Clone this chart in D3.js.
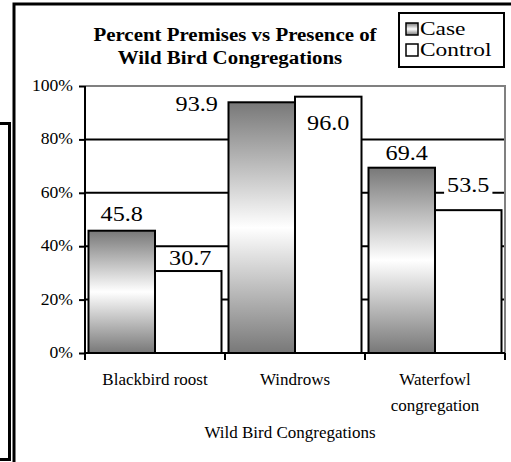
<!DOCTYPE html>
<meta charset="utf-8">
<style>
body { margin: 0; background: #fff; }
svg text { font-family: "Liberation Serif", "Times New Roman", Times, serif; }
.grid line { stroke: #000; stroke-width: 2; }
.axis path, .axis line { stroke: #000; stroke-width: 2; }
</style>
<body>
<script src="https://d3js.org/d3.v7.min.js"></script>
<script>

// data
var categories = ["Blackbird roost", "Windrows", "Waterfowl congregation"];
var seriesNames = ["Case", "Control"];
var caseValues = [45.8, 93.9, 69.4];
var controlValues = [30.7, 96.0, 53.5];
var yTicks = [0, 20, 40, 60, 80, 100];

// hand placed label nudges (px) like the original, [case, control] per category
var labelNudge = [[[0, -10], [2, -6]], [[-65, 9], [0, 33]], [[5, -8], [0, -18]]];

var width = 511, height = 462;
var margin = {left: 85, right: 6, top: 86, bottom: 109};
var serif = "'Liberation Serif', 'Times New Roman', serif";

var svg = d3.select("body").append("svg")
    .attr("width", width)
    .attr("height", height)
    .attr("font-family", serif);

// gradient for the Case bars: grey - white - grey
var grad = svg.append("defs").append("linearGradient")
    .attr("id", "caseFill")
    .attr("x1", 0).attr("y1", 0).attr("x2", 0).attr("y2", 1);
grad.append("stop").attr("offset", "0%").attr("stop-color", "#787878");
grad.append("stop").attr("offset", "50%").attr("stop-color", "#ffffff");
grad.append("stop").attr("offset", "100%").attr("stop-color", "#787878");

// frames around the picture
svg.append("path")
    .attr("d", "M14,520 V4 H520")
    .attr("fill", "none").attr("stroke", "#000").attr("stroke-width", 3);
svg.append("path")
    .attr("d", "M0,123.5 H9.5 V459.5 H0")
    .attr("fill", "none").attr("stroke", "#000").attr("stroke-width", 3);

var x0 = d3.scaleBand()
    .domain(categories)
    .range([margin.left, width - margin.right])
    .paddingInner(0.05)
    .paddingOuter(0.025);

var x1 = d3.scaleBand()
    .domain(seriesNames)
    .range([0, x0.bandwidth()]);

var y = d3.scaleLinear()
    .domain([0, 100])
    .range([height - margin.bottom, margin.top]);

// helper for the slightly wide text of the original
function wideText(g, px, py, sx, txt) {
  return g.append("text")
      .attr("font-family", serif)
      .attr("transform", "translate(" + px + "," + py + ") scale(" + sx + ",1)")
      .text(txt);
}

// gridlines
svg.append("g").attr("class", "grid")
  .selectAll("line")
  .data(yTicks.filter(function(d) { return d > 0 && d < 100; }))
  .enter().append("line")
    .attr("x1", margin.left).attr("x2", width - margin.right)
    .attr("y1", function(d) { return y(d); })
    .attr("y2", function(d) { return y(d); });

// grey plot border top + right
svg.append("path")
    .attr("d", "M" + margin.left + "," + y(100) + " H" + (width - margin.right) + " V" + y(0))
    .attr("fill", "none").attr("stroke", "#808080").attr("stroke-width", 2);

// bars
var rows = categories.map(function(c, i) {
  return {cat: c, i: i, vals: [caseValues[i], controlValues[i]]};
});

var groups = svg.append("g").selectAll("g")
  .data(rows)
  .enter().append("g")
    .attr("transform", function(d) { return "translate(" + x0(d.cat) + ",0)"; });

groups.selectAll("rect")
  .data(function(d) { return d.vals.map(function(v, k) { return {s: seriesNames[k], v: v}; }); })
  .enter().append("rect")
    .attr("x", function(d) { return x1(d.s); })
    .attr("width", x1.bandwidth())
    .attr("y", function(d) { return y(d.v); })
    .attr("height", function(d) { return y(0) - y(d.v); })
    .attr("fill", function(d) { return d.s == "Case" ? "url(#caseFill)" : "#fff"; })
    .attr("stroke", "#000")
    .attr("stroke-width", 2);

// value labels with white backing
rows.forEach(function(r) {
  r.vals.forEach(function(v, k) {
    var cx = x0(r.cat) + x1(seriesNames[k]) + x1.bandwidth() / 2 + labelNudge[r.i][k][0];
    var by = y(v) + labelNudge[r.i][k][1];
    var lg = svg.append("g");
    var bg = lg.append("rect").attr("fill", "#fff");
    var t = wideText(lg, cx, by, 1.1, v.toFixed(1))
        .attr("text-anchor", "middle")
        .attr("font-size", 22);
    var w = t.node().getComputedTextLength() * 1.1;
    bg.attr("x", cx - w / 2 - 3).attr("y", by - 17).attr("width", w + 6).attr("height", 21);
  });
});

// y axis
var yAxis = svg.append("g").attr("class", "axis")
    .attr("transform", "translate(" + margin.left + ",0)")
    .call(d3.axisLeft(y).tickValues(yTicks).tickSize(6).tickFormat(""));
yAxis.select(".domain").attr("d", "M0," + y(100) + "V" + y(0));
yTicks.forEach(function(d) {
  wideText(svg, margin.left - 12, y(d) + 5, 1.1, d + "%")
      .attr("text-anchor", "end")
      .attr("font-size", 16);
});

// x axis, ticks on the category boundaries
var bounds = categories.map(function(c) { return x0(c) - x0.step() * x0.paddingInner() / 2; });
bounds.push(width - margin.right);
var xg = svg.append("g").attr("class", "axis");
xg.append("line")
    .attr("x1", margin.left).attr("x2", width - margin.right)
    .attr("y1", y(0)).attr("y2", y(0));
xg.selectAll(".tk")
  .data(bounds)
  .enter().append("line")
    .attr("class", "tk")
    .attr("x1", function(d) { return d; }).attr("x2", function(d) { return d; })
    .attr("y1", y(0)).attr("y2", y(0) + 7);

// category labels, wrapped when too wide
categories.forEach(function(c) {
  var cx = x0(c) + x0.bandwidth() / 2;
  var t = svg.append("text")
      .attr("font-family", serif)
      .attr("x", cx).attr("y", 385)
      .attr("text-anchor", "middle")
      .attr("font-size", 17)
      .text(c);
  if (t.node().getComputedTextLength() > 125) {
    var words = c.split(" ");
    t.text(null);
    words.forEach(function(wd, j) {
      t.append("tspan").attr("x", cx).attr("dy", j ? 26 : 0).text(wd);
    });
  }
});

svg.append("text")
    .attr("font-family", serif)
    .attr("x", 290).attr("y", 438)
    .attr("text-anchor", "middle")
    .attr("font-size", 17)
    .text("Wild Bird Congregations");

// title
wideText(svg, 235, 41, 1.1, "Percent Premises vs Presence of")
    .attr("text-anchor", "middle").attr("font-size", 19).attr("font-weight", "bold");
wideText(svg, 230, 64, 1.1, "Wild Bird Congregations")
    .attr("text-anchor", "middle").attr("font-size", 19).attr("font-weight", "bold");

// legend
var leg = svg.append("g");
leg.append("rect")
    .attr("x", 399).attr("y", 13).attr("width", 105).attr("height", 54)
    .attr("fill", "#fff").attr("stroke", "#000").attr("stroke-width", 2);
seriesNames.forEach(function(s, k) {
  var ly = 35 + k * 21;
  leg.append("rect")
      .attr("x", 406).attr("y", ly - 12).attr("width", 12).attr("height", 12)
      .attr("fill", s == "Case" ? "url(#caseFill)" : "#fff")
      .attr("stroke", "#000").attr("stroke-width", 1.5);
  wideText(leg, 420, ly, 1.3, s).attr("font-size", 18);
});

</script>
</body>
